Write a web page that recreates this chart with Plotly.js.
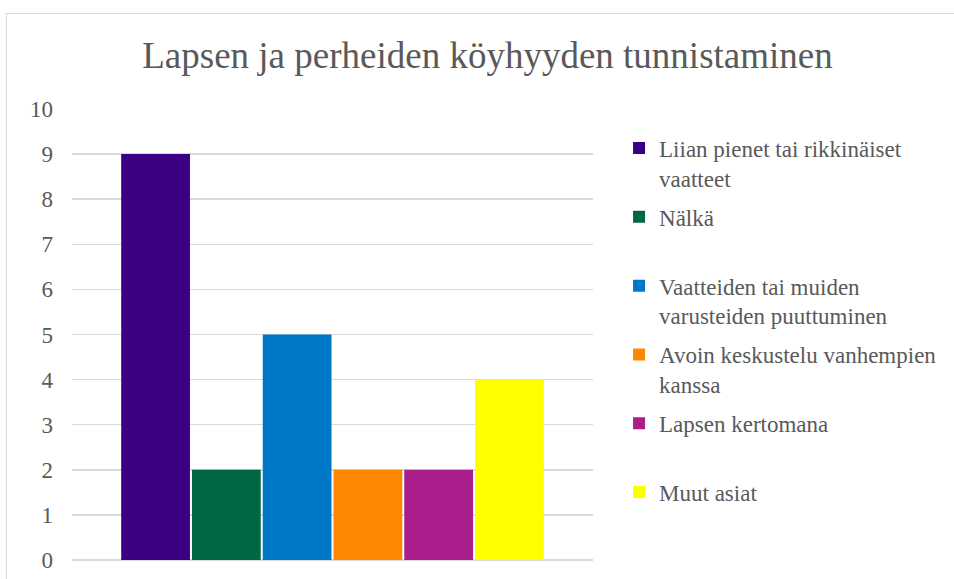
<!DOCTYPE html>
<html>
<head>
<meta charset="utf-8">
<script src="https://cdn.plot.ly/plotly-3.0.1.min.js"></script>
<style>
html,body{margin:0;padding:0;background:#fff;}
#wrap{position:relative;width:954px;height:579px;overflow:hidden;}
#chart{position:absolute;left:0;top:0;width:954px;height:579px;}
#frame{position:absolute;left:6px;top:13px;width:1000px;height:700px;border:1px solid #d9d9d9;pointer-events:none;box-sizing:border-box;}
</style>
</head>
<body>
<div id="wrap"><div id="chart"></div><div id="frame"></div></div>
<script>
var seriesNames = [
  "Liian pienet tai rikkinäiset<br>vaatteet",
  "Nälkä<br> ",
  "Vaatteiden tai muiden<br>varusteiden puuttuminen",
  "Avoin keskustelu vanhempien<br>kanssa",
  "Lapsen kertomana<br> ",
  "Muut asiat<br> "
];
var seriesValues = [9, 2, 5, 2, 2, 4];
var seriesColors = ["#3b0083", "#006644", "#0078c8", "#ff8800", "#aa1e8c", "#ffff00"];
var category = [""];

var traces = seriesNames.map(function(n, i){
  return {
    type: "bar",
    name: n,
    x: category,
    y: [seriesValues[i]],
    marker: {color: seriesColors[i]},
    legendgroup: "g" + i,
    hoverinfo: "y"
  };
});

var layout = {
  width: 954, height: 579,
  margin: {l: 72, r: 359, t: 109, b: 19},
  paper_bgcolor: "rgba(0,0,0,0)",
  plot_bgcolor: "#fff",
  font: {family: "Liberation Serif, Times New Roman, serif", color: "#595959", size: 23},
  title: {text: "Lapsen ja perheiden köyhyyden tunnistaminen", font: {size: 37, color: "#595959"}, x: 0.511, xanchor: "center", y: 0.905, yanchor: "middle"},
  barmode: "group",
  bargap: 0.185,
  bargroupgap: 0.028,
  xaxis: {showticklabels: false, showgrid: false, zeroline: false, showline: false, ticks: ""},
  yaxis: {range: [0, 10], dtick: 1, tick0: 0, showgrid: true, gridcolor: "#d9d9d9", gridwidth: 1.5, zeroline: true, zerolinecolor: "#d9d9d9", zerolinewidth: 1.5, showline: false, ticks: "", ticklabelstandoff: 18, tickfont: {size: 23, color: "#595959"}},
  showlegend: true,
  legend: {x: 1.05, xanchor: "left", y: 0.961, yanchor: "top", valign: "top", tracegroupgap: 6, font: {size: 23, color: "#595959"}, bgcolor: "rgba(0,0,0,0)"}
};

Plotly.newPlot("chart", traces, layout, {displayModeBar: false, staticPlot: true});
</script>
</body>
</html>
